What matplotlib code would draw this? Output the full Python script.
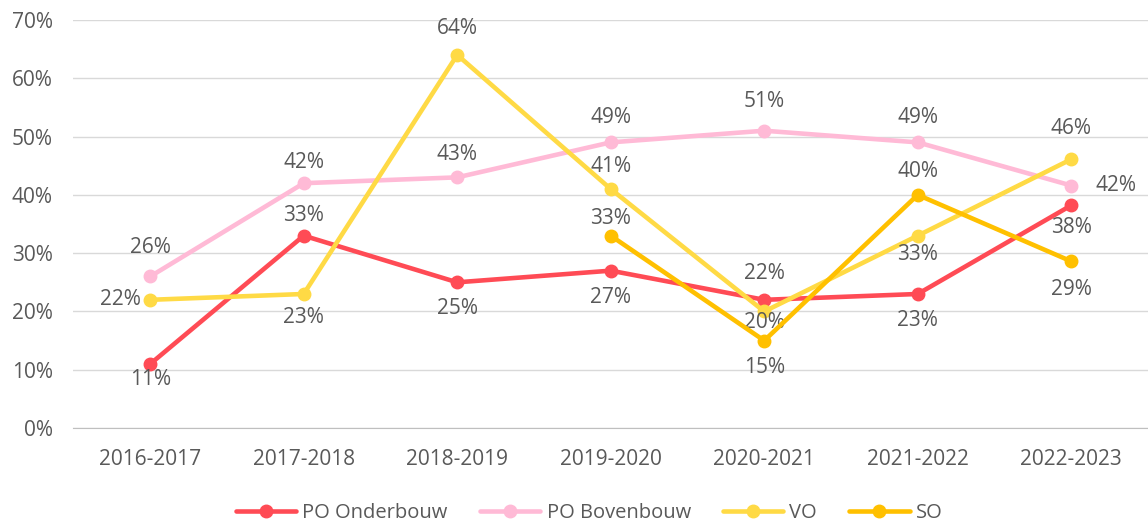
import matplotlib.pyplot as plt
import numpy as np

plt.rcParams['font.family'] = ['Open Sans', 'DejaVu Sans']

jaren = ['2016-2017', '2017-2018', '2018-2019', '2019-2020', '2020-2021', '2021-2022', '2022-2023']
po_onder = [11, 33, 25, 27, 22, 23, 38.2]
po_boven = [26, 42, 43, 49, 51, 49, 41.6]
vo = [22, 23, 64, 41, 20, 33, 46.1]
so = [np.nan, np.nan, np.nan, 33, 15, 40, 28.6]

# label richting per punt: 'a' boven, 'b' onder, 'l' links, 'r' rechts
pos_onder = ['b', 'a', 'b', 'b', 'a', 'b', 'b']
pos_boven = ['a', 'a', 'a', 'a', 'a', 'a', 'r']
pos_vo = ['l', 'b', 'a', 'a', 'b', 'b', 'a']
pos_so = [None, None, None, 'a', 'b', 'a', 'b']
# afstand label tot punt (pixels, ongeveer zoals excel ze zette)
afst_onder = [16, 20, 26, 27, 26, 27, 22]
afst_boven = [29, 21, 23, 25, 29, 25, 24]
afst_vo = [9, 24, 26, 23, 11, 19, 31]
afst_so = [0, 0, 0, 17, 27, 23, 28]

kleuren = ['#FF4B55', '#FFBAD6', '#FFDA45', '#FFC000']
tekstkleur = '#595959'

fig = plt.figure(figsize=(11.48, 5.24), dpi=100)
ax = fig.add_axes([0.064, 0.183, 0.936, 0.779])
x = np.arange(len(jaren))
px = 72 / 100  # pixels naar points

reeksen = [('PO Onderbouw', po_onder, pos_onder, afst_onder),
           ('PO Bovenbouw', po_boven, pos_boven, afst_boven),
           ('VO', vo, pos_vo, afst_vo), ('SO', so, pos_so, afst_so)]
for (naam, waarden, posities, afst), kleur in zip(reeksen, kleuren):
    ax.plot(x, waarden, color=kleur, lw=3.3, marker='o', ms=9, label=naam,
            solid_capstyle='round', zorder=3)
    for xi, w, p, d in zip(x, waarden, posities, afst):
        if p is None or np.isnan(w):
            continue
        tekst = '%d%%' % round(w)
        if p == 'a':
            ax.annotate(tekst, (xi, w), xytext=(0, d * px), textcoords='offset points',
                        ha='center', va='center', fontsize=15, color=tekstkleur)
        elif p == 'b':
            ax.annotate(tekst, (xi, w), xytext=(0, -d * px), textcoords='offset points',
                        ha='center', va='center', fontsize=15, color=tekstkleur)
        elif p == 'l':
            ax.annotate(tekst, (xi, w), xytext=(-d * px, 0), textcoords='offset points',
                        ha='right', va='center', fontsize=15, color=tekstkleur)
        else:
            ax.annotate(tekst, (xi, w), xytext=(d * px, 0), textcoords='offset points',
                        ha='left', va='center', fontsize=15, color=tekstkleur)

ax.set_xlim(-0.5, len(jaren) - 0.5)
ax.set_ylim(0, 70)
ax.set_yticks(range(0, 71, 10))
ax.set_yticklabels(['%d%%' % v for v in range(0, 71, 10)])
ax.set_xticks(x)
ax.set_xticklabels(jaren)
ax.tick_params(axis='both', length=0, labelsize=15, labelcolor=tekstkleur)
ax.tick_params(axis='x', pad=15)
ax.tick_params(axis='y', pad=15)
ax.grid(axis='y', color='#D9D9D9', lw=1)
ax.set_axisbelow(True)
for s in ['top', 'right', 'left']:
    ax.spines[s].set_visible(False)
ax.spines['bottom'].set_color('#BFBFBF')

ax.legend(loc='center', bbox_to_anchor=(0.48, -0.208), ncol=4, frameon=False,
          fontsize=14.5, labelcolor=tekstkleur, handlelength=3, columnspacing=1.6,
          handletextpad=0.3, borderpad=0.1)

fig.savefig('out.png', dpi=100)
